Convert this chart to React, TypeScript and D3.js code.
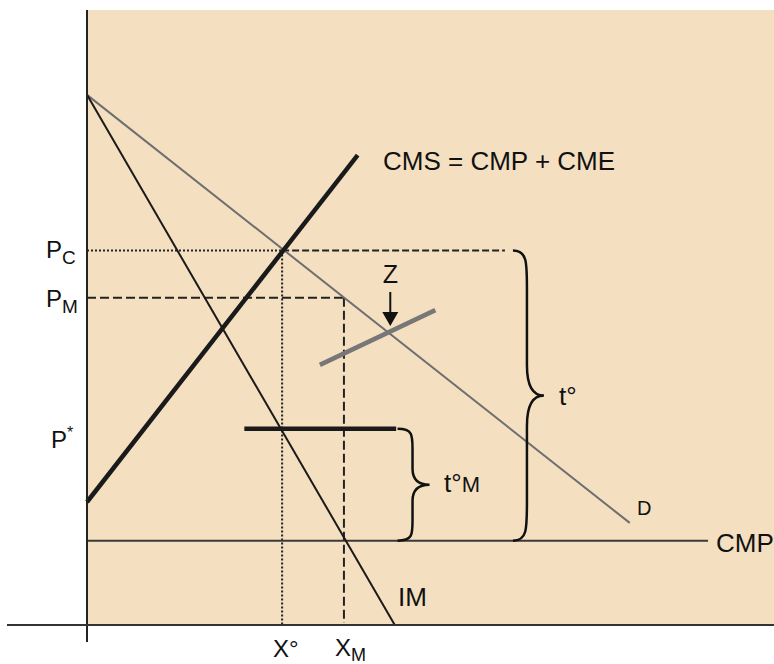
import React from "react";
import * as d3 from "d3";

// Conceptual units: quantity 0..100, price 0..100
const demandD = [
  { q: 0, p: 86.2 },
  { q: 79.0, p: 16.6 },
];
const importIM = [
  { q: 0, p: 86.2 },
  { q: 44.8, p: 0 },
];
const supplyCMS = [
  { q: 0, p: 20.0 },
  { q: 39.4, p: 76.4 },
];
const zLine = [
  { q: 33.9, p: 42.3 },
  { q: 50.7, p: 51.2 },
];
const pStarLine = [
  { q: 22.9, p: 31.9 },
  { q: 45.0, p: 31.9 },
];
const cmpLine = [
  { q: 0, p: 13.7 },
  { q: 90.4, p: 13.7 },
];
const priceLevels = { pc: 60.9, pm: 53.2, pStar: 31.9, cmp: 13.7 };
const quantityLevels = { xo: 28.4, xm: 37.4 };
const braceT = { q: 62.0, top: 60.9, bottom: 13.7 };
const braceTM = { q: 45.2, top: 31.9, bottom: 13.7 };
const zPoint = { q: 44.0 };

const W = 774;
const H = 664;
const FONT = "'Liberation Sans', Arial, Helvetica, sans-serif";

export default function App() {
  const x = d3.scaleLinear().domain([0, 100]).range([87, 774]);
  const y = d3.scaleLinear().domain([0, 100]).range([625, 10]);
  const line = d3
    .line<{ q: number; p: number }>()
    .x((d) => x(d.q))
    .y((d) => y(d.p));

  const brace = (x0: number, yTop: number, yBot: number, w1: number, w2: number, r: number) => {
    const x1 = x0 + w1;
    const x2 = x0 + w2;
    const ym = (yTop + yBot) / 2;
    const r2 = Math.min(r, (yBot - yTop) / 4);
    return [
      `M${x0},${yTop}`,
      `C${x1},${yTop} ${x1},${yTop + r2 * 0.3} ${x1},${yTop + r2}`,
      `L${x1},${ym - r2 * 0.8}`,
      `Q${x1},${ym} ${x2},${ym}`,
      `Q${x1},${ym} ${x1},${ym + r2 * 0.8}`,
      `L${x1},${yBot - r2}`,
      `C${x1},${yBot - r2 * 0.3} ${x1},${yBot} ${x0},${yBot}`,
    ].join(" ");
  };

  const yPc = y(priceLevels.pc);
  const yPm = y(priceLevels.pm);
  const yPs = y(priceLevels.pStar);
  const yCmp = y(priceLevels.cmp);
  const xXo = x(quantityLevels.xo);
  const xXm = x(quantityLevels.xm);
  const xZ = x(zPoint.q);

  return (
    <svg
      width={W}
      height={H}
      style={{ position: "absolute", left: 0, top: 0, background: "#fff" }}
      fontFamily={FONT}
    >
      <rect x={x(0)} y={y(100)} width={x(100) - x(0)} height={y(0) - y(100)} fill="#F4E0C1" />

      {/* reference lines */}
      <line x1={x(0)} x2={xXo} y1={yPc} y2={yPc} stroke="#222" strokeWidth={2} strokeDasharray="2,2" />
      <line x1={xXo} x2={x(braceT.q) - 8} y1={yPc} y2={yPc} stroke="#222" strokeWidth={2} strokeDasharray="7,3" />
      <line x1={xXo} x2={xXo} y1={yPc} y2={y(0)} stroke="#222" strokeWidth={2} strokeDasharray="2,2" />
      <line x1={x(0)} x2={xXm} y1={yPm} y2={yPm} stroke="#222" strokeWidth={2} strokeDasharray="9,4" />
      <line x1={xXm} x2={xXm} y1={yPm} y2={y(0) - 2} stroke="#222" strokeWidth={2} strokeDasharray="9,4" />

      {/* curves */}
      <path d={line(cmpLine) || ""} stroke="#3a3a3a" strokeWidth={2} fill="none" />
      <path d={line(demandD) || ""} stroke="#6e6e6e" strokeWidth={2} fill="none" />
      <path d={line(importIM) || ""} stroke="#1a1a1a" strokeWidth={2} fill="none" />
      <path d={line(supplyCMS) || ""} stroke="#1a1a1a" strokeWidth={4.5} fill="none" />
      <path d={line(pStarLine) || ""} stroke="#1a1a1a" strokeWidth={4.5} fill="none" />
      <path d={line(zLine) || ""} stroke="#777" strokeWidth={4.5} fill="none" />

      {/* braces */}
      <path d={brace(x(braceT.q), y(braceT.top), y(braceT.bottom), 14, 31, 38)} stroke="#111" strokeWidth={2.5} fill="none" />
      <path d={brace(x(braceTM.q), y(braceTM.top), y(braceTM.bottom), 15, 32, 20)} stroke="#111" strokeWidth={2.5} fill="none" />

      {/* Z arrow */}
      <line x1={xZ + 1} x2={xZ + 1} y1={292} y2={313} stroke="#111" strokeWidth={2} />
      <path d={`M${xZ - 7},${312} L${xZ + 9},${312} L${xZ + 1},${326} Z`} fill="#111" />

      {/* axes */}
      <line x1={x(0)} x2={x(0)} y1={y(100)} y2={642} stroke="#222" strokeWidth={2} />
      <line x1={7} x2={W} y1={y(0)} y2={y(0)} stroke="#333" strokeWidth={2} />

      {/* labels */}
      <g fill="#111">
        <text x={46} y={yPc + 8} fontSize={24}>
          P<tspan fontSize={19} dy={6}>C</tspan>
        </text>
        <text x={46} y={yPm + 9} fontSize={24}>
          P<tspan fontSize={19} dy={6}>M</tspan>
        </text>
        <text x={51} y={yPs + 19} fontSize={24}>
          P<tspan fontSize={16} dy={-10}>*</tspan>
        </text>
        <text x={xXo - 9} y={657} fontSize={24}>X°</text>
        <text x={xXm - 9} y={656} fontSize={24}>
          X<tspan fontSize={18} dy={5}>M</tspan>
        </text>
        <text x={383} y={170} fontSize={26}>CMS = CMP + CME</text>
        <text x={716} y={yCmp + 11} fontSize={26}>CMP</text>
        <text x={398} y={606} fontSize={26}>IM</text>
        <text x={637} y={515} fontSize={20}>D</text>
        <text x={559} y={405} fontSize={26}>t°</text>
        <text x={444} y={492} fontSize={26}>
          t°<tspan fontSize={22}>M</tspan>
        </text>
        <text x={xZ + 1} y={283} fontSize={25} textAnchor="middle">Z</text>
      </g>
    </svg>
  );
}
